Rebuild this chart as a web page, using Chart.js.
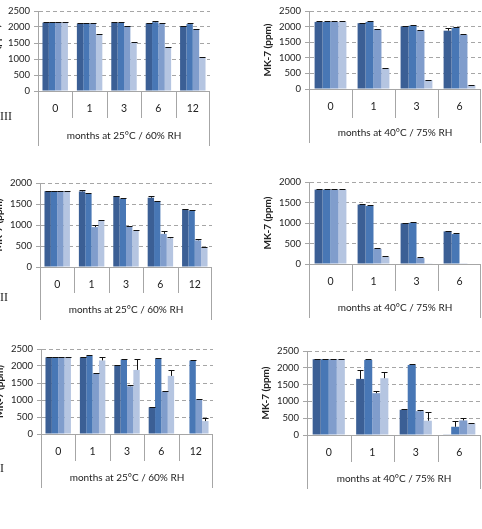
<!DOCTYPE html>
<html><head><meta charset="utf-8">
<script src="https://cdn.jsdelivr.net/npm/chart.js@4.4.0/dist/chart.umd.min.js"></script>
<style>
body{margin:0;background:#fff;width:482px;height:529px;overflow:hidden;position:relative}
canvas{position:absolute}
.row{position:absolute;font-family:"Liberation Serif",serif;font-size:12px;color:#222;line-height:12px}
</style></head><body>
<canvas id="c1"></canvas><canvas id="c2"></canvas>
<canvas id="c3"></canvas><canvas id="c4"></canvas>
<canvas id="c5"></canvas><canvas id="c6"></canvas>
<div class="row" style="left:0;top:110px">III</div>
<div class="row" style="left:0;top:291px">II</div>
<div class="row" style="left:0;top:462px">I</div>
<script>
// categories
const months25=["0","1","3","6","12"]
const months40=["0","1","3","6"]
const title25="months at 25°C / 60% RH"
const title40="months at 40°C / 75% RH"
const yTitle="MK-7 (ppm)"
const seriesColors=["#3b5f95","#4877b5","#809dcc","#b5c5e1"]

// row III
const valsIII25=[[2135,2105,2135,2115,2020],[2135,2105,2135,2150,2090],[2135,2110,2030,2100,1930],[2135,1760,1510,1375,1055]]
const errsIII25=[[15,20,15,15,15],[15,20,15,45,20],[15,20,15,15,15],[15,25,15,15,20]]
const valsIII40=[[2150,2110,2005,1870],[2150,2150,2030,1960],[2150,1910,1880,1740],[2150,665,285,125]]
const errsIII40=[[15,15,15,85],[15,15,15,20],[15,20,20,15],[15,15,15,10]]
// row II
const valsII25=[[1805,1800,1680,1650,1375],[1805,1745,1620,1565,1340],[1805,950,965,790,635],[1805,1095,865,685,460]]
const errsII25=[[15,35,15,40,15],[15,15,15,15,15],[15,50,15,60,40],[15,15,15,20,15]]
const valsII40=[[1815,1450,990,795],[1815,1415,1005,730],[1815,372,145,8],[1815,178,8,0]]
const errsII40=[[15,15,15,15],[15,15,15,15],[15,15,15,0],[15,15,0,0]]
// row I
const valsI25=[[2255,2255,2005,785,0],[2255,2295,2190,2215,2160],[2255,1780,1405,1250,1015],[2255,2165,1885,1710,380]]
const errsI25=[[15,15,15,15,0],[15,15,15,15,15],[15,15,45,15,15],[15,95,310,180,80]]
const valsI40=[[2255,1670,750,10],[2255,2235,2085,245],[2255,1245,710,435],[2255,1690,425,345]]
const errsI40=[[15,260,15,0],[15,15,15,170],[15,50,25,80],[15,175,270,15]]
const yMax25=2500, yMax20=2000, yStep=500

Chart.defaults.font.family="Lato"
Chart.defaults.color="#222"

const axisDeco={
  id:"axisDeco",
  afterDraw(chart){
    let g=chart.options.plugins.axisDeco
    let x=chart.scales.x, a=chart.chartArea, c=chart.ctx
    let top=chart.canvas.offsetTop
    let zero=a.bottom
    c.save()
    c.strokeStyle="#a6a6a6"; c.lineWidth=1
    c.beginPath()
    c.moveTo(a.left,zero+0.5); c.lineTo(a.right,zero+0.5)
    for(let i=1;i<x.ticks.length;i++){
      let px=Math.round((x.getPixelForTick(i-1)+x.getPixelForTick(i))/2)+0.5
      c.moveTo(px,zero); c.lineTo(px,g.sep-top)
    }
    c.moveTo(Math.round(a.left)+0.5,zero); c.lineTo(Math.round(a.left)+0.5,g.outer-top)
    c.moveTo(Math.round(a.right)-0.5,zero); c.lineTo(Math.round(a.right)-0.5,g.outer-top)
    c.stroke()
    c.restore()
  }
}

const errorBars={
  id:"errorBars",
  afterDatasetsDraw(chart){
    let errs=chart.options.plugins.errorBars.errs
    let y=chart.scales.y, c=chart.ctx
    c.save(); c.strokeStyle="#111"; c.lineWidth=1
    chart.data.datasets.forEach((ds,i)=>{
      chart.getDatasetMeta(i).data.forEach((bar,j)=>{
        let e=errs[i][j]
        if(!e) return
        let yt=Math.round(y.getPixelForValue(ds.data[j]+e))+0.5
        let xb=Math.round(bar.x)+0.5
        c.beginPath()
        c.moveTo(xb,bar.y); c.lineTo(xb,yt)
        c.moveTo(xb-3,yt); c.lineTo(xb+3,yt)
        c.stroke()
      })
    })
    c.restore()
  }
}

function panel(id,g,labels,vals,errs,yMax,xTitle){
  let cv=document.getElementById(id)
  let cl=g.col==0?-20:240
  let cw=242
  let ct=g.top-11
  let ch=g.outer-ct+1
  cv.width=cw; cv.height=ch
  cv.style.left=cl+"px"; cv.style.top=ct+"px"
  new Chart(cv,{
    type:"bar",
    data:{
      labels:labels,
      datasets:vals.map((v,i)=>({data:v,backgroundColor:seriesColors[i],categoryPercentage:0.74,barPercentage:1}))
    },
    options:{
      responsive:false,animation:false,
      layout:{padding:{left:g.axisX-51-cl,right:cl+cw-g.right,top:11,bottom:1}},
      plugins:{legend:{display:false},tooltip:{enabled:false},
        axisDeco:{sep:g.sep,outer:g.outer},errorBars:{errs:errs}},
      scales:{
        x:{
          grid:{display:false,drawTicks:false},border:{display:false},
          ticks:{padding:11,font:{size:10.5}},
          title:{display:true,text:xTitle,font:{size:10},padding:{top:0,bottom:4}},
          afterFit(s){s.height=g.outer-g.zero}
        },
        y:{
          min:0,max:yMax,
          ticks:{stepSize:yStep,padding:4,font:{size:9.5},callback:v=>String(v)},
          grid:{color:"#a6a6a6",tickLength:4,tickBorderDash:[],tickColor:"#a6a6a6"},
          border:{color:"#a6a6a6",dash:[4,3]},
          title:{display:true,text:yTitle,font:{size:10,weight:"bold"}},
          afterFit(s){s.width=51}
        }
      }
    },
    plugins:[axisDeco,errorBars]
  })
}

panel("c1",{col:0,axisX:38,right:210,top:11,zero:91,sep:118,outer:146},months25,valsIII25,errsIII25,yMax25,title25)
panel("c2",{col:1,axisX:309,right:481,top:11,zero:89,sep:118,outer:143},months40,valsIII40,errsIII40,yMax25,title40)
panel("c3",{col:0,axisX:40,right:212,top:183,zero:267,sep:293,outer:320},months25,valsII25,errsII25,yMax20,title25)
panel("c4",{col:1,axisX:309,right:481,top:182,zero:264,sep:291,outer:318},months40,valsII40,errsII40,yMax20,title40)
panel("c5",{col:0,axisX:41,right:213,top:349,zero:434,sep:461,outer:488},months25,valsI25,errsI25,yMax25,title25)
panel("c6",{col:1,axisX:307,right:481,top:351,zero:435,sep:462,outer:489},months40,valsI40,errsI40,yMax25,title40)
</script>
</body></html>
